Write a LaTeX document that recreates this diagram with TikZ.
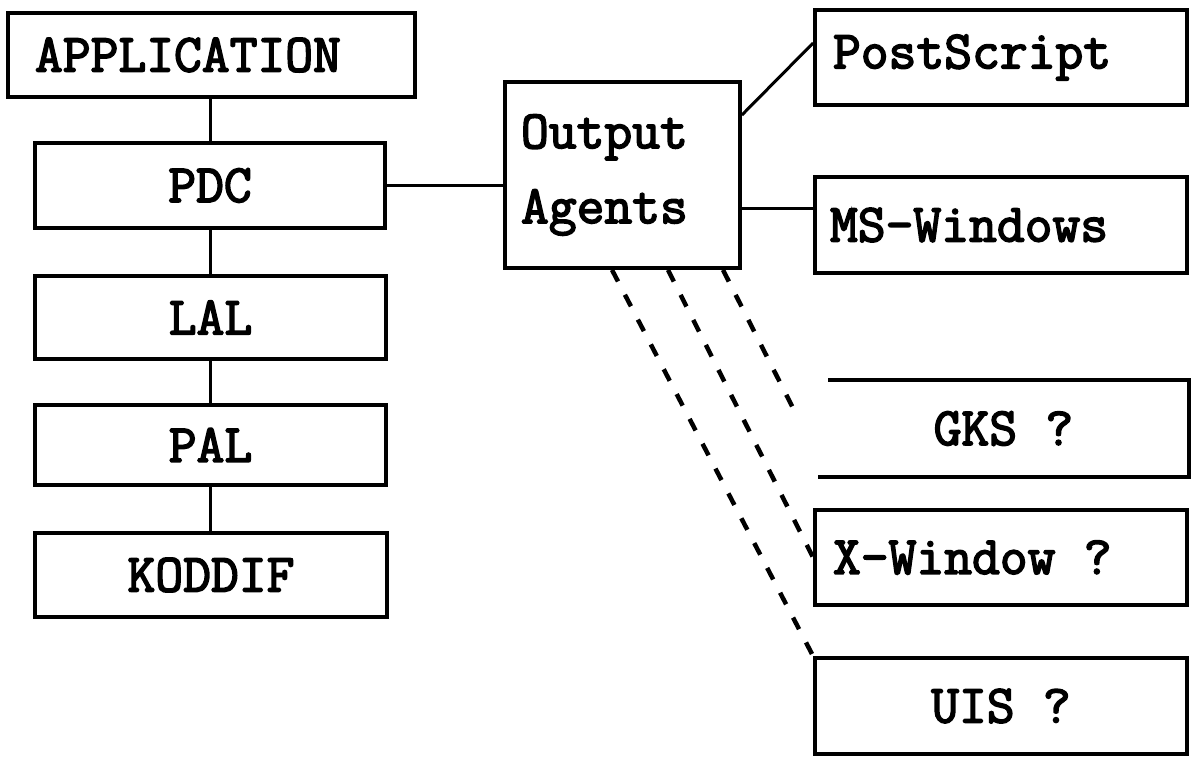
\documentclass[tikz,border=0pt]{standalone}
\usepackage{fontspec}
\newfontfamily\courfont{Latin Modern Mono}[BoldFont={Latin Modern Mono}, BoldFeatures={FakeBold=3}]
\begin{document}
\begin{tikzpicture}[x=1pt,y=-1pt,
  boxbase/.style={line width=3.8pt, inner ysep=0pt,
    font=\courfont\bfseries\fontsize{54}{60}\selectfont},
  cbox/.style={boxbase, draw, align=center},
  lbox/.style={boxbase, draw, align=left},
  link/.style={line width=3pt},
  dlink/.style={line width=4.5pt, dash pattern=on 13pt off 15pt}
]
\useasboundingbox (0,0) rectangle (1191,756);
% left stack
\node[lbox, minimum width=407pt, minimum height=84pt, text width=353pt, inner xsep=27pt] (app) at (211.5,55) {APPLICATION};
\node[cbox, minimum width=350pt, minimum height=85pt] (pdc) at (210,185.5) {PDC};
\node[cbox, minimum width=351pt, minimum height=83pt] (lal) at (210.5,317.5) {LAL};
\node[cbox, minimum width=351pt, minimum height=80pt] (pal) at (210.5,445) {PAL};
\node[cbox, minimum width=352pt, minimum height=84pt] (kod) at (211,575) {KODDIF};
% output agents
\node[boxbase, draw, minimum width=235pt, minimum height=186pt, text width=203pt, inner xsep=16pt, align=left,
  font=\courfont\bfseries\fontsize{54}{75}\selectfont] (oa) at (622.5,175) {Output\\Agents};
% right column
\node[lbox, minimum width=372pt, minimum height=95pt, text width=336pt, inner xsep=18pt] (ps) at (1001,57.5) {PostScript};
\node[lbox, minimum width=372pt, minimum height=96pt, text width=342pt, inner xsep=15pt] (ms) at (1001,225) {MS-Windows};
\node[boxbase, minimum width=367pt, minimum height=93pt, align=center] (gks) at (1003.5,428.5) {GKS\kern0.525em?};
\draw[line width=3.8pt] ([xshift=10pt]gks.north west) -- (gks.north east) -- (gks.south east) -- (gks.south west);
\node[lbox, minimum width=372pt, minimum height=95pt, text width=336pt, inner xsep=18pt] (xw) at (1001,557.5) {X-Window\kern0.525em?};
\node[cbox, minimum width=372pt, minimum height=96pt] (uis) at (1001,706) {UIS\kern0.525em?};
\coordinate (gksend) at (796,414);
% connectors
\draw[link] (pdc.north |- app.south) -- (pdc.north);
\draw[link] (pdc.south) -- (lal.north -| pdc.south);
\draw[link] (lal.south -| pdc.south) -- (pal.north -| pdc.south);
\draw[link] (pal.south -| pdc.south) -- (kod.north -| pdc.south);
\draw[link] (pdc.east) -- (pdc.east -| oa.west);
\draw[link] ([yshift=60pt]oa.east) -- ([yshift=14.5pt]ps.west);
\draw[link] ([yshift=-33pt]oa.east) -- ([yshift=-33pt]oa.east -| ms.west);
\draw[dlink] ([xshift=-10.5pt]oa.south) -- (uis.north west);
\draw[dlink] ([xshift=45.5pt]oa.south) -- (xw.west);
\draw[dlink] ([xshift=100.5pt]oa.south) -- (gksend);
\end{tikzpicture}
\end{document}
